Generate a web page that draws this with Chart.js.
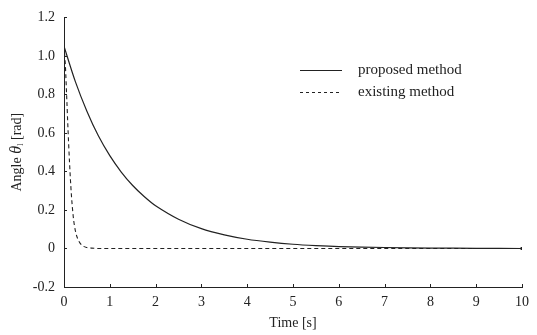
<!DOCTYPE html>
<html>
<head>
<meta charset="utf-8">
<script src="https://cdn.jsdelivr.net/npm/chart.js@4.4.1/dist/chart.umd.min.js"></script>
<style>
  html, body { margin: 0; padding: 0; background: #fff; }
  #wrap { width: 537px; height: 335px; }
</style>
</head>
<body>
<div id="wrap"><canvas id="angleChart" width="537" height="335"></canvas></div>
<script>
// data
const timeProposed = [0, 0.25, 0.5, 0.75, 1, 1.25, 1.5, 1.75, 2, 2.5, 3, 3.5, 4, 4.5, 5, 5.5, 6, 7, 8, 9, 10];
const angleProposed = [1.05, 0.865, 0.713, 0.585, 0.482, 0.397, 0.327, 0.27, 0.222, 0.152, 0.103, 0.071, 0.048, 0.033, 0.022, 0.015, 0.010, 0.005, 0.002, 0.001, 0];

const timeExisting = [0, 0.03, 0.06, 0.1, 0.15, 0.2, 0.25, 0.3, 0.35, 0.4, 0.5, 0.6, 0.8, 1, 2, 4, 6, 8, 10];
const angleExisting = [1.05, 0.95, 0.78, 0.55, 0.32, 0.17, 0.09, 0.05, 0.028, 0.015, 0.005, 0.002, 0, 0, 0, 0, 0, 0, 0];

const seriesLabels = ["proposed method", "existing method"];
const xTicks = [0, 1, 2, 3, 4, 5, 6, 7, 8, 9, 10];
const yTicks = [-0.2, 0, 0.2, 0.4, 0.6, 0.8, 1.0, 1.2];

const serif = "'Liberation Serif', 'DejaVu Serif', serif";
const ink = '#222';

function toPoints(xs, ys) {
    return xs.map((x, i) => ({ x: x, y: ys[i] }));
}

// inward tick marks, legend and y title drawn on top of the chart
const extrasPlugin = {
    id: 'extras',
    afterDraw(chart) {
        const ctx = chart.ctx;
        const area = chart.chartArea;
        const xs = chart.scales.x;
        const ys = chart.scales.y;
        ctx.save();
        ctx.strokeStyle = ink;
        ctx.lineWidth = 1;
        ctx.beginPath();
        xTicks.forEach(v => {
            const px = Math.round(xs.getPixelForValue(v)) + 0.5;
            ctx.moveTo(px, area.bottom);
            ctx.lineTo(px, area.bottom - 3);
        });
        yTicks.forEach(v => {
            const py = Math.round(ys.getPixelForValue(v)) + 0.5;
            ctx.moveTo(area.left, py);
            ctx.lineTo(area.left + 3, py);
        });
        ctx.stroke();

        // legend
        ctx.font = '15px ' + serif;
        ctx.fillStyle = ink;
        ctx.textBaseline = 'middle';
        const rows = [{ y: 70.5, dash: [] }, { y: 92.5, dash: [3, 3] }];
        rows.forEach((r, i) => {
            ctx.setLineDash(r.dash);
            ctx.beginPath();
            ctx.moveTo(300, r.y);
            ctx.lineTo(342, r.y);
            ctx.stroke();
            ctx.setLineDash([]);
            ctx.fillText(seriesLabels[i], 358, r.y);
        });

        // y axis title: Angle θ_l [rad]
        ctx.translate(17, (area.top + area.bottom) / 2);
        ctx.rotate(-Math.PI / 2);
        const parts = [
            { t: 'Angle ', f: '14px ' + serif, dy: 0 },
            { t: 'θ', f: 'italic 16px ' + serif, dy: 0 },
            { t: 'l', f: '9px ' + serif, dy: 4 },
            { t: ' [rad]', f: '14px ' + serif, dy: 0 }
        ];
        let total = 0;
        parts.forEach(p => { ctx.font = p.f; total += ctx.measureText(p.t).width; });
        let cx = -total / 2;
        parts.forEach(p => {
            ctx.font = p.f;
            ctx.fillText(p.t, cx, p.dy);
            cx += ctx.measureText(p.t).width;
        });
        ctx.restore();
    }
};

const canvas = document.getElementById('angleChart').getContext('2d');
new Chart(canvas, {
    type: 'scatter',
    data: {
        datasets: [
            {
                label: seriesLabels[0],
                data: toPoints(timeProposed, angleProposed),
                showLine: true,
                borderColor: ink,
                borderWidth: 1.2,
                tension: 0.3,
                pointRadius: timeProposed.map((t, i) => i === timeProposed.length - 1 ? 2 : 0),
                pointStyle: 'rect',
                pointBackgroundColor: ink,
                pointBorderWidth: 0
            },
            {
                label: seriesLabels[1],
                data: toPoints(timeExisting, angleExisting),
                showLine: true,
                borderColor: ink,
                borderWidth: 1.1,
                borderDash: [4, 3],
                cubicInterpolationMode: 'monotone',
                pointRadius: 0
            }
        ]
    },
    options: {
        responsive: false,
        animation: false,
        layout: { padding: { top: 15, right: 15, left: 0, bottom: 0 } },
        plugins: {
            legend: { display: false },
            tooltip: { enabled: false }
        },
        scales: {
            x: {
                type: 'linear',
                min: 0,
                max: 10,
                afterBuildTicks: s => { s.ticks = xTicks.map(v => ({ value: v })); },
                afterFit: s => { s.height = 48; },
                grid: { display: false, drawTicks: false },
                border: { display: true, color: ink, width: 1 },
                ticks: {
                    color: ink,
                    padding: 7,
                    maxRotation: 0,
                    font: { family: serif, size: 14 },
                    callback: v => String(v)
                },
                title: {
                    display: true,
                    text: 'Time [s]',
                    color: ink,
                    padding: { top: 0, bottom: 3 },
                    font: { family: serif, size: 14 }
                }
            },
            y: {
                type: 'linear',
                min: -0.2,
                max: 1.2,
                afterBuildTicks: s => { s.ticks = yTicks.map(v => ({ value: v })); },
                afterFit: s => { s.width = 64; },
                grid: { display: false, drawTicks: false },
                border: { display: true, color: ink, width: 1 },
                ticks: {
                    color: ink,
                    padding: 9,
                    font: { family: serif, size: 14 },
                    callback: v => Math.abs(v) < 1e-9 ? '0' : v.toFixed(1)
                }
            }
        }
    },
    plugins: [extrasPlugin]
});
</script>
</body>
</html>
